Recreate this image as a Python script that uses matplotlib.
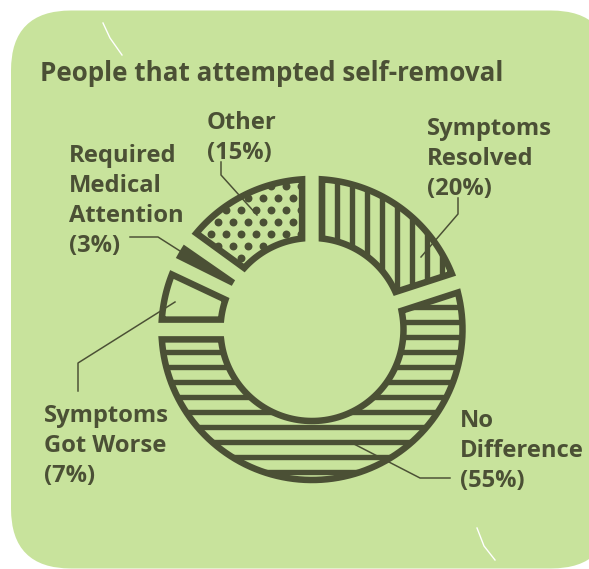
"""
Donut chart: people that attempted self-removal, hatched padded sectors on a green card.
Output: out.png
"""
import numpy as np
import matplotlib
matplotlib.use("Agg")
import matplotlib.pyplot as plt
from matplotlib.patches import PathPatch, FancyBboxPatch
from matplotlib.path import Path

# --- data ---
title = "People that attempted self-removal"
categories = ["Symptoms\nResolved", "No\nDifference", "Symptoms\nGot Worse",
              "Required\nMedical\nAttention", "Other"]
shares = [20, 55, 7, 3, 15]

# --- style / layout (image pixel coords, y down) ---
W, H = 589, 569
DPI = 90
BG = "#c8e39c"
DARK = "#4b5035"
fills = ["|", "-", "", "solid", "dots"]
CX, CY = 312.0, 329.5
R_OUT, R_IN, PAD = 150.5, 91.5, 9.9
label_pos = [(427, 117), (460, 409), (44, 404), (69, 144), (207, 111)]
leaders = [
    [(458, 198), (458, 214), (421, 257)],
    [(450, 478), (420, 478), (352, 443)],
    [(78, 391), (78, 363), (175, 302)],
    [(130, 237), (158, 237), (180, 251)],
    [(221, 162), (221, 175), (257, 215)],
]

plt.rcParams["hatch.linewidth"] = 4.3
FONT = ["Open Sans", "DejaVu Sans"]


def Y(y):
    return H - y


def padded_sector(t_hi, t_lo, r_out, r_in, pad, n=90):
    """annular sector with constant-width gaps (parallel edges)"""
    def span(rho):
        d = np.degrees(np.arcsin(min(pad / rho, 1.0)))
        a, b = t_lo + d, t_hi - d
        if a > b:
            a = b = (t_lo + t_hi) / 2
        return a, b
    a0, b0 = span(r_out)
    a1, b1 = span(r_in)
    outer = np.radians(np.linspace(b0, a0, n))
    inner = np.radians(np.linspace(a1, b1, n))
    xs = np.r_[r_out * np.cos(outer), r_in * np.cos(inner)] + CX
    ys = np.r_[r_out * np.sin(outer), r_in * np.sin(inner)] + Y(CY)
    verts = np.column_stack([xs, ys])
    verts = np.vstack([verts, verts[:1]])
    codes = [Path.MOVETO] + [Path.LINETO] * (len(verts) - 2) + [Path.CLOSEPOLY]
    return Path(verts, codes)


def main():
    fig = plt.figure(figsize=(W / DPI, H / DPI), dpi=DPI, facecolor="white")
    ax = fig.add_axes([0, 0, 1, 1])
    ax.set_xlim(0, W)
    ax.set_ylim(0, H)
    ax.axis("off")

    # card background
    ax.add_patch(FancyBboxPatch((11, Y(568.5)), 600, 558,
                                boxstyle="round,pad=0,rounding_size=60",
                                fc=BG, ec="none", zorder=0))
    ax.plot([103, 110, 122], [Y(23), Y(38), Y(55)], color="white", lw=1.1, zorder=1)
    ax.plot([477, 484, 495], [Y(528), Y(546), Y(560)], color="white", lw=1.1, zorder=1)

    ax.text(40, Y(81), title, fontsize=20.8, fontweight="bold", color=DARK,
            family=FONT, va="baseline", ha="left")

    # donut sectors, clockwise from 12 o'clock
    fr = np.asarray(shares, float) / np.sum(shares)
    starts = 90 - 360 * np.r_[0, np.cumsum(fr)[:-1]]
    for i, (t_hi, f) in enumerate(zip(starts, fr)):
        t_lo = t_hi - 360 * f
        path = padded_sector(t_hi, t_lo, R_OUT, R_IN, PAD)
        kind = fills[i]
        if kind in ("|", "-"):
            ax.add_patch(PathPatch(path, fc=BG, ec=DARK, lw=5.2, hatch=kind,
                                   joinstyle="miter", zorder=3))
        elif kind == "dots":
            base = PathPatch(path, fc=BG, ec="none", zorder=3)
            ax.add_patch(base)
            # staggered dot pattern: rows 12 px apart, dots 15 px apart
            gy = np.arange(150, 300, 12.0)
            pts = [(x + (7.5 if k % 2 else 0), y) for k, y in enumerate(gy)
                   for x in np.arange(173.3, 330, 15.0)]
            dx, dy = np.array(pts).T
            sc = ax.scatter(dx, [Y(v) for v in dy], s=40, color=DARK,
                            linewidths=0, zorder=3.2)
            sc.set_clip_path(base)
            ax.add_patch(PathPatch(path, fc="none", ec=DARK, lw=5.2,
                                   joinstyle="miter", zorder=3.4))
        else:
            ax.add_patch(PathPatch(path, fc=DARK if kind == "solid" else BG,
                                   ec=DARK, lw=5.2, joinstyle="miter", zorder=3))

    for cat, v, (lx, ly), pts in zip(categories, shares, label_pos, leaders):
        ax.text(lx, Y(ly), f"{cat}\n({v}%)", fontsize=19, fontweight="bold",
                color=DARK, family=FONT, va="top", ha="left", linespacing=1.33)
        px, py = zip(*pts)
        ax.plot(px, [Y(p) for p in py], color=DARK, lw=1.2, zorder=4)

    fig.savefig("out.png", dpi=DPI, facecolor="white")


if __name__ == "__main__":
    main()
